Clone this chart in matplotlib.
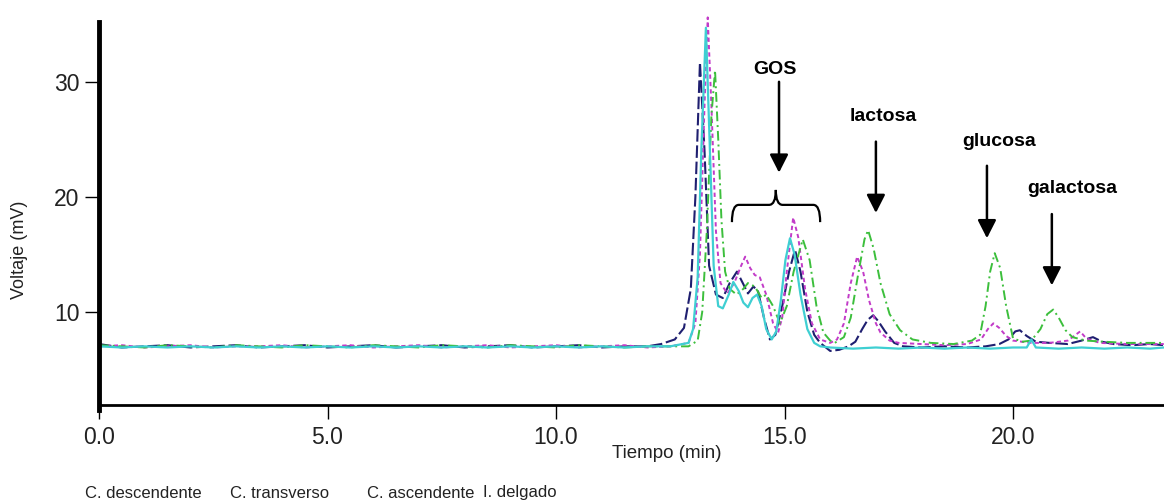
import matplotlib
matplotlib.use("Agg")
import matplotlib.pyplot as plt
from matplotlib.path import Path
from matplotlib.patches import PathPatch

plt.rcParams['font.family'] = ['Liberation Sans', 'DejaVu Sans']

# ---------------- data ----------------
series_names = ["C. descendente", "C. transverso", "C. ascendente", "I. delgado"]

base_t = [0.0, 0.5, 1.0, 1.5, 2.0, 2.5, 3.0, 3.5, 4.0, 4.5, 5.0, 5.5, 6.0, 6.5,
          7.0, 7.5, 8.0, 8.5, 9.0, 9.5, 10.0, 10.5, 11.0, 11.5, 12.0]

desc_t = base_t + [12.3, 12.6, 12.8, 12.95, 13.05, 13.15, 13.25, 13.35, 13.5, 13.65,
                   13.8, 13.96, 14.1, 14.2, 14.32, 14.42, 14.55, 14.68, 14.8, 14.95,
                   15.1, 15.23, 15.35, 15.5, 15.65, 15.78, 16.0, 16.2, 16.4, 16.55,
                   16.7, 16.82, 16.94, 17.05, 17.2, 17.4, 17.6, 18.0, 18.5, 19.0,
                   19.4, 19.7, 19.9, 20.05, 20.15, 20.3, 20.5, 20.8, 21.2, 21.5,
                   21.75, 21.95, 22.2, 22.6, 23.0, 23.3]
desc_v = [7.2, 6.9, 7.0, 7.1, 6.9, 7.0, 7.1, 6.9, 7.0, 7.1, 6.9, 7.0, 7.1, 6.9,
          7.0, 7.1, 6.9, 7.0, 7.1, 6.9, 7.0, 7.1, 6.9, 7.0, 7.0] + \
         [7.2, 7.6, 8.6, 12.0, 20.0, 31.7, 24.0, 14.0, 11.5, 11.2,
          12.5, 13.5, 12.4, 11.6, 12.2, 11.8, 9.5, 7.6, 8.0, 10.5,
          13.5, 15.4, 13.5, 10.0, 8.0, 7.3, 6.6, 6.7, 7.0, 7.4,
          8.5, 9.3, 9.7, 9.2, 8.3, 7.3, 7.0, 6.9, 7.0, 6.9,
          7.0, 7.2, 7.6, 8.3, 8.4, 7.9, 7.4, 7.3, 7.2, 7.5,
          7.8, 7.4, 7.2, 7.1, 7.2, 7.1]

trans_t = base_t + [12.5, 12.9, 13.05, 13.15, 13.25, 13.32, 13.4, 13.5, 13.6, 13.75,
                    13.9, 14.05, 14.14, 14.25, 14.35, 14.46, 14.6, 14.75, 14.86, 14.95,
                    15.05, 15.19, 15.3, 15.45, 15.6, 15.78, 16.0, 16.15, 16.3, 16.45,
                    16.59, 16.72, 16.85, 17.0, 17.1, 17.3, 17.5, 18.0, 18.5, 19.0,
                    19.3, 19.45, 19.57, 19.7, 19.85, 20.0, 20.4, 20.8, 21.2, 21.47,
                    21.6, 21.9, 22.5, 23.3]
trans_v = [7.0, 7.1, 6.9, 7.0, 7.1, 6.9, 7.0, 7.0, 7.1, 6.9, 7.0, 7.1, 6.9, 7.0,
           7.1, 6.9, 7.0, 7.1, 6.9, 7.0, 7.1, 6.9, 7.0, 7.1, 6.9] + \
          [7.0, 7.3, 9.0, 15.0, 28.0, 35.6, 28.0, 17.0, 12.5, 11.6,
           12.5, 14.0, 14.8, 13.8, 13.2, 13.0, 11.5, 9.0, 8.2, 9.5,
           13.5, 18.2, 16.5, 12.0, 9.0, 7.6, 7.3, 7.6, 9.0, 12.5,
           14.8, 13.5, 11.0, 9.0, 8.2, 7.5, 7.3, 7.2, 7.1, 7.2,
           7.6, 8.5, 9.0, 8.6, 7.9, 7.5, 7.3, 7.3, 7.5, 8.3,
           7.7, 7.3, 7.2, 7.2]

asc_t = base_t + [12.5, 12.9, 13.1, 13.2, 13.3, 13.4, 13.48, 13.55, 13.62, 13.7,
                  13.8, 13.95, 14.1, 14.2, 14.35, 14.5, 14.6, 14.75, 14.9, 15.05,
                  15.2, 15.4, 15.55, 15.7, 15.85, 16.0, 16.1, 16.3, 16.45, 16.6,
                  16.75, 16.83, 16.95, 17.1, 17.3, 17.53, 17.8, 18.2, 18.7, 19.1,
                  19.28, 19.4, 19.5, 19.6, 19.72, 19.85, 20.0, 20.2, 20.4, 20.6,
                  20.75, 20.88, 21.0, 21.15, 21.3, 21.6, 22.0, 22.5, 23.3]
asc_v = [7.1, 7.0, 6.9, 7.1, 7.0, 6.9, 7.1, 7.0, 6.9, 7.1, 7.0, 6.9, 7.1, 7.0,
         6.9, 7.1, 7.0, 6.9, 7.1, 7.0, 6.9, 7.1, 7.0, 6.9, 7.0] + \
        [7.0, 7.0, 7.5, 10.0, 17.0, 27.0, 31.0, 25.0, 18.0, 13.5,
         12.0, 11.5, 12.0, 12.5, 12.2, 11.2, 11.5, 10.5, 9.0, 10.5,
         13.5, 16.3, 14.5, 10.5, 8.2, 7.5, 7.3, 7.8, 9.5, 13.0,
         16.3, 17.1, 15.5, 12.5, 9.8, 8.4, 7.6, 7.3, 7.2, 7.5,
         8.0, 10.5, 13.5, 15.1, 13.8, 10.5, 7.7, 7.4, 7.5, 8.5,
         9.8, 10.2, 9.5, 8.4, 7.8, 7.5, 7.4, 7.3, 7.3]

del_t = base_t + [12.5, 12.9, 13.0, 13.1, 13.18, 13.28, 13.36, 13.45, 13.55, 13.65,
                  13.78, 13.88, 14.0, 14.1, 14.2, 14.3, 14.4, 14.5, 14.6, 14.72,
                  14.82, 14.92, 15.02, 15.12, 15.22, 15.35, 15.5, 15.65, 15.78, 16.0,
                  16.5, 17.0, 17.5, 18.0, 18.5, 19.0, 19.5, 20.0, 20.3, 20.4,
                  20.5, 21.0, 21.5, 22.0, 22.5, 23.0, 23.3]
del_v = [7.0, 6.9, 7.0, 6.9, 7.0, 6.9, 7.0, 6.9, 7.0, 6.9, 7.0, 6.9, 7.0, 6.9,
         7.0, 6.9, 7.0, 6.9, 7.0, 6.9, 7.0, 6.9, 7.0, 6.9, 7.0] + \
        [7.0, 7.3, 8.5, 13.0, 24.0, 34.7, 25.0, 14.0, 10.5, 10.3,
         11.5, 12.6, 11.8, 10.8, 10.4, 11.2, 11.5, 10.5, 8.5, 7.6,
         8.3, 11.0, 14.5, 16.4, 15.0, 11.5, 8.5, 7.3, 7.0, 6.9,
         6.8, 6.9, 6.8, 6.9, 6.8, 6.9, 6.8, 6.9, 6.9, 7.6,
         6.9, 6.8, 6.9, 6.8, 6.9, 6.8, 6.9]

x_ticks = [0.0, 5.0, 10.0, 15.0, 20.0]
x_ticklabels = ["0.0", "5.0", "10.0", "15.0", "20.0"]
y_ticks = [10, 20, 30]
y_ticklabels = ["10", "20", "30"]

peak_labels = ["GOS", "lactosa", "glucosa", "galactosa"]
# (text x, text y, arrow x, arrow tail y, arrow tip y) in data units
peak_label_pos = [(14.79, 31.1, 14.88, 30.0, 22.1),
                  (17.16, 27.0, 17.00, 24.8, 18.6),
                  (19.69, 24.8, 19.43, 22.7, 16.4),
                  (21.29, 20.7, 20.85, 18.5, 12.3)]

# ---------------- figure ----------------
W, H = 1164, 503
fig = plt.figure(figsize=(W / 100, H / 100), dpi=100)
ax = fig.add_axes([99 / W, 1 - 405 / H, (W - 99) / W, (405 - 22) / H])

styles = [
    dict(color="#1f1f70", lw=1.5, dashes=(6, 1.8)),
    dict(color="#c23bc8", lw=1.4, dashes=(2.2, 1.6)),
    dict(color="#3cbf3c", lw=1.4, dashes=(5, 2, 1, 2)),
    dict(color="#3fcfd2", lw=1.6, linestyle="-"),
]
all_t = [desc_t, trans_t, asc_t, del_t]
all_v = [desc_v, trans_v, asc_v, del_v]
for t, v, st in zip(all_t, all_v, styles):
    ax.plot(t, v, clip_on=False, **st)

ax.set_xlim(0, (W - 99) / 45.7)
ax.set_ylim(1.9, 35.2)

for s in ["top", "right"]:
    ax.spines[s].set_visible(False)
ax.spines["left"].set_linewidth(3.5)
ax.spines["bottom"].set_linewidth(2.0)
ax.spines["left"].set_bounds(1.5, 35.2)

ax.set_xticks(x_ticks)
ax.set_xticklabels(x_ticklabels)
ax.set_yticks(y_ticks)
ax.set_yticklabels(y_ticklabels)
ax.tick_params(axis="both", direction="out", length=10, width=1.0,
               labelsize=16.5, labelcolor="#222222", pad=5)
ax.tick_params(axis="y", pad=4)

# brace over GOS
x0, x1, xm = 13.85, 15.78, 14.81
y0, y1, y2 = 17.8, 19.3, 20.6
dx = 0.15
verts = [(x0, y0), (x0, y1), (x0 + dx, y1), (xm - dx, y1), (xm, y1), (xm, y2),
         (xm, y1), (xm + dx, y1), (x1 - dx, y1), (x1, y1), (x1, y0)]
codes = [Path.MOVETO, Path.CURVE3, Path.CURVE3, Path.LINETO, Path.CURVE3, Path.CURVE3,
         Path.CURVE3, Path.CURVE3, Path.LINETO, Path.CURVE3, Path.CURVE3]
ax.add_patch(PathPatch(Path(verts, codes), fill=False, lw=1.6, color="black",
                       clip_on=False))

for lab, (tx, ty, axx, ay0, ay1) in zip(peak_labels, peak_label_pos):
    ax.text(tx, ty, lab, ha="center", va="center", fontsize=14, fontweight="bold",
            color="black")
    ax.annotate("", xy=(axx, ay1), xytext=(axx, ay0),
                arrowprops=dict(arrowstyle="-|>,head_length=0.55,head_width=0.28",
                                lw=1.8, color="black", mutation_scale=20,
                                shrinkA=0, shrinkB=0))

fig.text(20 / W, 1 - 250 / H, "Voltaje (mV)", rotation=90, ha="center", va="center",
         fontsize=13, color="#222222")
fig.text(667 / W, 1 - 453 / H, "Tiempo (min)", ha="center", va="center",
         fontsize=13.5, color="#222222")

legend_x = [85, 230, 367, 483]
for name, lx in zip(series_names, legend_x):
    fig.text(lx / W, 1 - 493 / H, name, ha="left", va="center", fontsize=12,
             color="#222222")

fig.savefig("out.png", dpi=100, facecolor="white")
